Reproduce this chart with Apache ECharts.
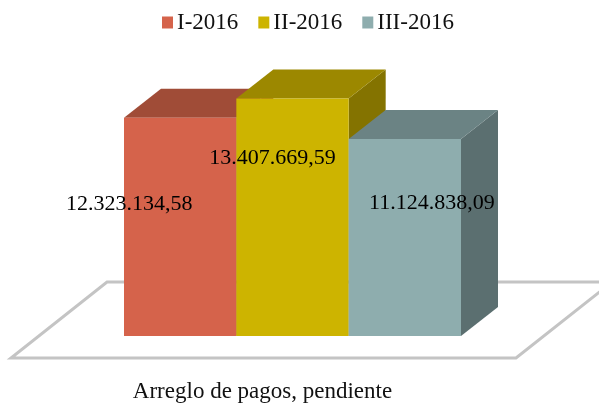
<!DOCTYPE html>
<html>
<head>
<meta charset="utf-8">
<script src="https://cdn.jsdelivr.net/npm/echarts@6/dist/echarts.min.js"></script>
<style>
  html, body { margin: 0; padding: 0; background: #fff; }
  #main { width: 599px; height: 403px; }
</style>
</head>
<body>
<div id="main"></div>
<script>
// data
const categories = ["Arreglo de pagos, pendiente"];
const seriesNames = ["I-2016", "II-2016", "III-2016"];
const seriesValues = [12323134.58, 13407669.59, 11124838.09];
const valueLabels = ["12.323.134,58", "13.407.669,59", "11.124.838,09"];

// look
const frontColors = ["#D5634B", "#CDB400", "#8EADAE"];
const topColors = ["#A04C37", "#9C8800", "#6B8384"];
const sideColors = ["#A04C37", "#847300", "#5B6F70"];
const labelOffsets = [[-51, -23], [-20, -59], [27, -34]];
const depthX = 37;
const depthY = 29;
const fontName = '"Liberation Serif", serif';

// floor under the bars, hung on the chart area
function renderFloor(params, api) {
  const base = api.coord([0, 0]);
  const half = api.size([1, 0])[0] / 2;
  const y = base[1];
  const left = base[0] - half - 113;
  const right = base[0] + half + 55;
  return {
    type: "polygon",
    shape: { points: [[left, y + 22], [right, y + 22], [right + 96, y - 54], [left + 96, y - 54]] },
    style: { fill: "#fff", stroke: "#C4C4C4", lineWidth: 3 },
    silent: true
  };
}

// one 3d block: front, top and side faces
function makeBlock(index) {
  return function (params, api) {
    const base = api.coord([0, 0]);
    const top = api.coord([0, api.value(1)]);
    const band = api.size([1, 0])[0];
    const w = band / seriesValues.length;
    const x0 = base[0] - band / 2 + w * index;
    const x1 = x0 + w;
    const y0 = base[1];
    const y1 = top[1];
    return {
      type: "group",
      children: [
        {
          type: "polygon",
          shape: { points: [[x1, y1], [x1 + depthX, y1 - depthY], [x1 + depthX, y0 - depthY], [x1, y0]] },
          style: { fill: sideColors[index] }
        },
        {
          type: "polygon",
          shape: { points: [[x0, y1], [x0 + depthX, y1 - depthY], [x1 + depthX, y1 - depthY], [x1, y1]] },
          style: { fill: topColors[index] }
        },
        {
          type: "rect",
          shape: { x: x0, y: y1, width: w, height: y0 - y1 },
          style: { fill: frontColors[index] }
        },
        {
          type: "text",
          z2: 100,
          style: {
            text: valueLabels[index],
            x: (x0 + x1) / 2 + labelOffsets[index][0],
            y: (y0 + y1) / 2 + labelOffsets[index][1],
            align: "center",
            verticalAlign: "middle",
            fill: "#000",
            font: "22px " + fontName
          }
        }
      ]
    };
  };
}

const series = [
  {
    type: "custom",
    name: "floor",
    coordinateSystem: "cartesian2d",
    silent: true,
    z: 1,
    renderItem: renderFloor,
    data: [[0, 0]]
  }
];
seriesNames.forEach(function (name, i) {
  series.push({
    type: "custom",
    name: name,
    coordinateSystem: "cartesian2d",
    z: 2 + i,
    itemStyle: { color: frontColors[i] },
    renderItem: makeBlock(i),
    encode: { x: 0, y: 1 },
    data: [[0, seriesValues[i]]]
  });
});

const myChart = echarts.init(document.getElementById("main"));
myChart.setOption({
  backgroundColor: "#fff",
  animation: false,
  legend: {
    data: seriesNames,
    top: 6,
    left: 157,
    icon: "rect",
    itemWidth: 11,
    itemHeight: 12,
    itemGap: 20,
    textStyle: { fontFamily: fontName, fontSize: 23, color: "#111", padding: [0, 0, 0, -1] }
  },
  grid: { left: 124, right: 138, top: 88, bottom: 67, outerBoundsMode: "none" },
  xAxis: {
    type: "category",
    data: categories,
    axisLine: { show: false },
    axisTick: { show: false },
    splitLine: { show: false },
    axisLabel: {
      fontFamily: fontName,
      fontSize: 23,
      color: "#111",
      margin: 44,
      padding: [0, 60, 0, 0]
    }
  },
  yAxis: {
    type: "value",
    min: 0,
    max: 14000000,
    show: false
  },
  series: series
});
</script>
</body>
</html>
